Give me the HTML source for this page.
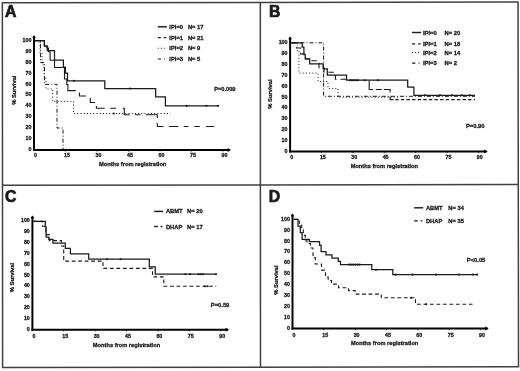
<!DOCTYPE html><html><head><meta charset="utf-8"><style>html,body{margin:0;padding:0;background:#fff;width:520px;height:371px;overflow:hidden}svg{display:block;will-change:transform}</style></head><body><svg width="520" height="371" viewBox="0 0 520 371" font-family='"Liberation Sans", sans-serif' fill="#1a1a1a">
<style>text{stroke:#1a1a1a;stroke-width:0.28px;}</style>
<rect width="520" height="371" fill="#fff"/>
<path d="M2.35,2.75 L518.05,2.0 L518.5,366.75 L2.6,367.5 Z" fill="none" stroke="#404040" stroke-width="1.5"/>
<path d="M260.3,2.4 L260.5,367.1" fill="none" stroke="#404040" stroke-width="1.5"/>
<path d="M2.5,185.35 L518.3,184.45" fill="none" stroke="#404040" stroke-width="1.5"/>
<text x="5.00" y="16.80" font-size="15.8" text-anchor="start" font-weight="bold" style="stroke-width:0.7px">A</text>
<text x="269.00" y="16.90" font-size="15.8" text-anchor="start" font-weight="bold" style="stroke-width:0.7px">B</text>
<text x="5.00" y="202.00" font-size="15.8" text-anchor="start" font-weight="bold" style="stroke-width:0.7px">C</text>
<text x="268.80" y="202.20" font-size="15.8" text-anchor="start" font-weight="bold" style="stroke-width:0.7px">D</text>
<line x1="34" y1="36" x2="34" y2="151" stroke="#000" stroke-width="2"/>
<path d="M32.1,37.7 L34,34.9 L35.9,37.7Z" fill="#000"/>
<line x1="33" y1="150" x2="230" y2="150" stroke="#000" stroke-width="2"/>
<path d="M227.6,148.0 L231.2,150 L227.6,152.0Z" fill="#000"/>
<text x="31.40" y="151.10" font-size="5.3" text-anchor="end" font-weight="bold" >0</text>
<text x="31.40" y="140.17" font-size="5.3" text-anchor="end" font-weight="bold" >10</text>
<text x="31.40" y="129.24" font-size="5.3" text-anchor="end" font-weight="bold" >20</text>
<text x="31.40" y="118.31" font-size="5.3" text-anchor="end" font-weight="bold" >30</text>
<text x="31.40" y="107.38" font-size="5.3" text-anchor="end" font-weight="bold" >40</text>
<text x="31.40" y="96.45" font-size="5.3" text-anchor="end" font-weight="bold" >50</text>
<text x="31.40" y="85.52" font-size="5.3" text-anchor="end" font-weight="bold" >60</text>
<text x="31.40" y="74.59" font-size="5.3" text-anchor="end" font-weight="bold" >70</text>
<text x="31.40" y="63.66" font-size="5.3" text-anchor="end" font-weight="bold" >80</text>
<text x="31.40" y="52.73" font-size="5.3" text-anchor="end" font-weight="bold" >90</text>
<text x="31.40" y="41.80" font-size="5.3" text-anchor="end" font-weight="bold" >100</text>
<text x="35.60" y="156.90" font-size="5.3" text-anchor="middle" font-weight="bold" >0</text>
<line x1="65.50" y1="150" x2="65.50" y2="151.6" stroke="#000" stroke-width="0.8"/>
<text x="66.90" y="156.90" font-size="5.3" text-anchor="middle" font-weight="bold" >15</text>
<line x1="97.00" y1="150" x2="97.00" y2="151.6" stroke="#000" stroke-width="0.8"/>
<text x="98.40" y="156.90" font-size="5.3" text-anchor="middle" font-weight="bold" >30</text>
<line x1="128.50" y1="150" x2="128.50" y2="151.6" stroke="#000" stroke-width="0.8"/>
<text x="129.90" y="156.90" font-size="5.3" text-anchor="middle" font-weight="bold" >45</text>
<line x1="160.00" y1="150" x2="160.00" y2="151.6" stroke="#000" stroke-width="0.8"/>
<text x="161.40" y="156.90" font-size="5.3" text-anchor="middle" font-weight="bold" >60</text>
<line x1="191.50" y1="150" x2="191.50" y2="151.6" stroke="#000" stroke-width="0.8"/>
<text x="192.90" y="156.90" font-size="5.3" text-anchor="middle" font-weight="bold" >75</text>
<line x1="223.00" y1="150" x2="223.00" y2="151.6" stroke="#000" stroke-width="0.8"/>
<text x="224.40" y="156.90" font-size="5.3" text-anchor="middle" font-weight="bold" >90</text>
<text x="0" y="0" font-size="5.8" font-weight="bold" text-anchor="middle" transform="translate(15.7,90.2) rotate(-90)">% Survival</text>
<text x="132.70" y="165.80" font-size="5.7" text-anchor="middle" font-weight="bold" >Months from registration</text>
<path d="M35.00,40.70 H44.40 V46.00 H47.30 V50.50 H54.50 V60.20 H63.40 V67.00 H65.40 V73.00 H67.50 V80.80 H104.80 V88.50 H155.70 V96.90 H165.40 V105.80 H218.50" fill="none" stroke="#1a1a1a" stroke-width="1.25" />
<ellipse cx="74.00" cy="80.80" rx="1.15" ry="1.05" fill="#1a1a1a"/>
<ellipse cx="130.10" cy="88.50" rx="1.15" ry="1.05" fill="#1a1a1a"/>
<ellipse cx="113.70" cy="113.50" rx="1.15" ry="1.05" fill="#1a1a1a"/>
<ellipse cx="186.70" cy="105.80" rx="1.15" ry="1.05" fill="#1a1a1a"/>
<ellipse cx="206.40" cy="105.80" rx="1.15" ry="1.05" fill="#1a1a1a"/>
<ellipse cx="218.00" cy="105.80" rx="1.15" ry="1.05" fill="#1a1a1a"/>
<path d="M35.00,40.70 H44.40 V46.00 H46.90 V48.00 H48.50 V51.70 H50.10 V60.20 H54.50 V67.50 H64.50 V79.00 H66.80 V84.50 H67.90 V90.6 H75.8" fill="none" stroke="#1a1a1a" stroke-width="1.1" />
<path d="M79.4,92.4 V96 H86 M90.3,97.9 V102.5 H95 M96.4,106 V108.3 H104.8 M110.2,108.3 H116.2 M122.9,108.3 H124.3 V114.8 H129.7 M135,114.8 H140.4 M145.8,114.8 H157.3 V118 M157.3,123 V126.5 H163.5 M168.8,126.5 H178.3 M183.6,126.5 H188.4 M194.4,126.5 H199.8 M205.9,126.5 H213.9" fill="none" stroke="#1a1a1a" stroke-width="1.1"/>
<path d="M35.00,40.70 H40.00 V52.80 H42.00 V65.00 H44.00 V77.00 H46.00 V89.00 H52.70 V101.40 H73.50 V113.50 H170.50" fill="none" stroke="#1a1a1a" stroke-width="1.0" stroke-dasharray="1,2.2"/>
<path d="M35.00,40.70 H40.50 V62.50 H44.50 V84.40 H57.00 V128.00 H63.00 V149.00 H63.00" fill="none" stroke="#1a1a1a" stroke-width="1.0" stroke-dasharray="4,2,1,2"/>
<line x1="157.8" y1="26.8" x2="166.8" y2="26.8" stroke="#1a1a1a" stroke-width="1.45"/>
<text x="169.30" y="28.80" font-size="5.8" text-anchor="start" font-weight="bold" >IPI=0</text>
<text x="187.90" y="28.80" font-size="5.8" text-anchor="start" font-weight="bold" >N= 17</text>
<path d="M157.8,37.7 h3 M163.8,37.7 h2.5" stroke="#1a1a1a" stroke-width="1.3"/>
<text x="169.30" y="39.70" font-size="5.8" text-anchor="start" font-weight="bold" >IPI=1</text>
<text x="187.90" y="39.70" font-size="5.8" text-anchor="start" font-weight="bold" >N= 21</text>
<path d="M157.8,48.3 h1 M160.8,48.3 h1 M163.8,48.3 h1" stroke="#1a1a1a" stroke-width="1.1"/>
<text x="169.30" y="50.30" font-size="5.8" text-anchor="start" font-weight="bold" >IPI=2</text>
<text x="187.90" y="50.30" font-size="5.8" text-anchor="start" font-weight="bold" >N= 9</text>
<path d="M157.8,59.0 h3.3 M164.20000000000002,59.0 h1" stroke="#1a1a1a" stroke-width="1.2"/>
<text x="169.30" y="61.00" font-size="5.8" text-anchor="start" font-weight="bold" >IPI=3</text>
<text x="187.90" y="61.00" font-size="5.8" text-anchor="start" font-weight="bold" >N= 5</text>
<text x="214.20" y="91.20" font-size="5.7" text-anchor="start" font-weight="bold" >P=0.009</text>
<line x1="290.1" y1="37.5" x2="290.1" y2="152.5" stroke="#000" stroke-width="2"/>
<path d="M288.20000000000005,39.2 L290.1,36.4 L292.0,39.2Z" fill="#000"/>
<line x1="289.1" y1="151.5" x2="486.5" y2="151.5" stroke="#000" stroke-width="2"/>
<path d="M484.1,149.5 L487.7,151.5 L484.1,153.5Z" fill="#000"/>
<text x="287.50" y="153.00" font-size="5.3" text-anchor="end" font-weight="bold" >0</text>
<text x="287.50" y="142.10" font-size="5.3" text-anchor="end" font-weight="bold" >10</text>
<text x="287.50" y="131.20" font-size="5.3" text-anchor="end" font-weight="bold" >20</text>
<text x="287.50" y="120.30" font-size="5.3" text-anchor="end" font-weight="bold" >30</text>
<text x="287.50" y="109.40" font-size="5.3" text-anchor="end" font-weight="bold" >40</text>
<text x="287.50" y="98.50" font-size="5.3" text-anchor="end" font-weight="bold" >50</text>
<text x="287.50" y="87.60" font-size="5.3" text-anchor="end" font-weight="bold" >60</text>
<text x="287.50" y="76.70" font-size="5.3" text-anchor="end" font-weight="bold" >70</text>
<text x="287.50" y="65.80" font-size="5.3" text-anchor="end" font-weight="bold" >80</text>
<text x="287.50" y="54.90" font-size="5.3" text-anchor="end" font-weight="bold" >90</text>
<text x="287.50" y="44.00" font-size="5.3" text-anchor="end" font-weight="bold" >100</text>
<text x="291.70" y="159.20" font-size="5.3" text-anchor="middle" font-weight="bold" >0</text>
<line x1="321.48" y1="151.5" x2="321.48" y2="153.1" stroke="#000" stroke-width="0.8"/>
<text x="322.88" y="159.20" font-size="5.3" text-anchor="middle" font-weight="bold" >15</text>
<line x1="352.86" y1="151.5" x2="352.86" y2="153.1" stroke="#000" stroke-width="0.8"/>
<text x="354.26" y="159.20" font-size="5.3" text-anchor="middle" font-weight="bold" >30</text>
<line x1="384.24" y1="151.5" x2="384.24" y2="153.1" stroke="#000" stroke-width="0.8"/>
<text x="385.64" y="159.20" font-size="5.3" text-anchor="middle" font-weight="bold" >45</text>
<line x1="415.62" y1="151.5" x2="415.62" y2="153.1" stroke="#000" stroke-width="0.8"/>
<text x="417.02" y="159.20" font-size="5.3" text-anchor="middle" font-weight="bold" >60</text>
<line x1="447.00" y1="151.5" x2="447.00" y2="153.1" stroke="#000" stroke-width="0.8"/>
<text x="448.40" y="159.20" font-size="5.3" text-anchor="middle" font-weight="bold" >75</text>
<line x1="478.38" y1="151.5" x2="478.38" y2="153.1" stroke="#000" stroke-width="0.8"/>
<text x="479.78" y="159.20" font-size="5.3" text-anchor="middle" font-weight="bold" >90</text>
<text x="0" y="0" font-size="5.8" font-weight="bold" text-anchor="middle" transform="translate(272.3,94.1) rotate(-90)">% Survival</text>
<text x="384.30" y="168.20" font-size="5.7" text-anchor="middle" font-weight="bold" >Months from registration</text>
<path d="M291.40,42.80 H302.20 V47.20 H303.90 V54.70 H305.20 V58.90 H309.70 V63.90 H323.10 V68.90 H327.30 V75.10 H346.50 V80.20 H407.70 V87.20 H413.90 V95.30 H475.00" fill="none" stroke="#1a1a1a" stroke-width="1.25" />
<ellipse cx="425.00" cy="95.30" rx="1.15" ry="1.05" fill="#1a1a1a"/>
<ellipse cx="440.00" cy="95.30" rx="1.15" ry="1.05" fill="#1a1a1a"/>
<ellipse cx="452.00" cy="95.30" rx="1.15" ry="1.05" fill="#1a1a1a"/>
<ellipse cx="462.00" cy="95.30" rx="1.15" ry="1.05" fill="#1a1a1a"/>
<ellipse cx="470.00" cy="95.30" rx="1.15" ry="1.05" fill="#1a1a1a"/>
<ellipse cx="350.00" cy="80.20" rx="1.15" ry="1.05" fill="#1a1a1a"/>
<ellipse cx="352.00" cy="80.20" rx="1.15" ry="1.05" fill="#1a1a1a"/>
<ellipse cx="354.00" cy="80.20" rx="1.15" ry="1.05" fill="#1a1a1a"/>
<ellipse cx="356.00" cy="80.20" rx="1.15" ry="1.05" fill="#1a1a1a"/>
<ellipse cx="358.00" cy="80.20" rx="1.15" ry="1.05" fill="#1a1a1a"/>
<ellipse cx="364.70" cy="80.20" rx="1.15" ry="1.05" fill="#1a1a1a"/>
<ellipse cx="377.80" cy="80.20" rx="1.15" ry="1.05" fill="#1a1a1a"/>
<path d="M291.40,42.80 H296.40 V48.00 H300.50 V53.90 H305.60 V59.00 H309.70 V60.80 H319.00 V68.00 H324.00 V72.30 H335.40 V79.20 H346.00" fill="none" stroke="#1a1a1a" stroke-width="1.1" stroke-dasharray="5.5,4"/>
<path d="M369.2,80.4 V89.5 H373 M375.8,89.5 H381.8 M383.8,89.5 H390.1 V92.5 M390.1,96.5 V99.6 H393.5" fill="none" stroke="#1a1a1a" stroke-width="1.1"/>
<path d="M395.3,99.6 H475" fill="none" stroke="#1a1a1a" stroke-width="1.1" stroke-dasharray="3.4,2.2"/>
<path d="M291.40,42.80 H297.20 V50.50 H298.90 V73.10 H318.10 V81.50 H328.00 V88.50 H338.00 V97.20 H400.00" fill="none" stroke="#1a1a1a" stroke-width="1.0" stroke-dasharray="1,2.2"/>
<path d="M291.40,42.80 H323.60 V96.30 H475.00" fill="none" stroke="#1a1a1a" stroke-width="1.0" stroke-dasharray="4,2,1,2"/>
<line x1="412.1" y1="32.5" x2="421.1" y2="32.5" stroke="#1a1a1a" stroke-width="1.45"/>
<text x="423.00" y="34.50" font-size="5.8" text-anchor="start" font-weight="bold" >IPI=0</text>
<text x="444.50" y="34.50" font-size="5.8" text-anchor="start" font-weight="bold" >N= 20</text>
<path d="M412.1,43.8 h3 M418.1,43.8 h2.5" stroke="#1a1a1a" stroke-width="1.3"/>
<text x="423.00" y="45.80" font-size="5.8" text-anchor="start" font-weight="bold" >IPI=1</text>
<text x="444.50" y="45.80" font-size="5.8" text-anchor="start" font-weight="bold" >N= 18</text>
<path d="M412.1,52.5 h1 M415.1,52.5 h1 M418.1,52.5 h1" stroke="#1a1a1a" stroke-width="1.1"/>
<text x="423.00" y="54.50" font-size="5.8" text-anchor="start" font-weight="bold" >IPI=2</text>
<text x="444.50" y="54.50" font-size="5.8" text-anchor="start" font-weight="bold" >N= 14</text>
<path d="M412.1,63.2 h3.3 M418.5,63.2 h1" stroke="#1a1a1a" stroke-width="1.2"/>
<text x="423.00" y="65.20" font-size="5.8" text-anchor="start" font-weight="bold" >IPI=3</text>
<text x="444.50" y="65.20" font-size="5.8" text-anchor="start" font-weight="bold" >N= 2</text>
<text x="466.00" y="128.20" font-size="5.8" text-anchor="start" font-weight="bold" >P=0.90</text>
<line x1="32.4" y1="216.6" x2="32.4" y2="330.8" stroke="#000" stroke-width="2"/>
<path d="M30.5,218.29999999999998 L32.4,215.5 L34.3,218.29999999999998Z" fill="#000"/>
<line x1="31.4" y1="329.8" x2="228" y2="329.8" stroke="#000" stroke-width="2"/>
<path d="M225.6,327.8 L229.2,329.8 L225.6,331.8Z" fill="#000"/>
<text x="29.80" y="330.80" font-size="5.3" text-anchor="end" font-weight="bold" >0</text>
<text x="29.80" y="319.94" font-size="5.3" text-anchor="end" font-weight="bold" >10</text>
<text x="29.80" y="309.08" font-size="5.3" text-anchor="end" font-weight="bold" >20</text>
<text x="29.80" y="298.22" font-size="5.3" text-anchor="end" font-weight="bold" >30</text>
<text x="29.80" y="287.36" font-size="5.3" text-anchor="end" font-weight="bold" >40</text>
<text x="29.80" y="276.50" font-size="5.3" text-anchor="end" font-weight="bold" >50</text>
<text x="29.80" y="265.64" font-size="5.3" text-anchor="end" font-weight="bold" >60</text>
<text x="29.80" y="254.78" font-size="5.3" text-anchor="end" font-weight="bold" >70</text>
<text x="29.80" y="243.92" font-size="5.3" text-anchor="end" font-weight="bold" >80</text>
<text x="29.80" y="233.06" font-size="5.3" text-anchor="end" font-weight="bold" >90</text>
<text x="29.80" y="222.20" font-size="5.3" text-anchor="end" font-weight="bold" >100</text>
<text x="34.00" y="337.90" font-size="5.3" text-anchor="middle" font-weight="bold" >0</text>
<line x1="63.80" y1="329.8" x2="63.80" y2="331.40000000000003" stroke="#000" stroke-width="0.8"/>
<text x="65.20" y="337.90" font-size="5.3" text-anchor="middle" font-weight="bold" >15</text>
<line x1="95.19" y1="329.8" x2="95.19" y2="331.40000000000003" stroke="#000" stroke-width="0.8"/>
<text x="96.59" y="337.90" font-size="5.3" text-anchor="middle" font-weight="bold" >30</text>
<line x1="126.59" y1="329.8" x2="126.59" y2="331.40000000000003" stroke="#000" stroke-width="0.8"/>
<text x="127.99" y="337.90" font-size="5.3" text-anchor="middle" font-weight="bold" >45</text>
<line x1="157.98" y1="329.8" x2="157.98" y2="331.40000000000003" stroke="#000" stroke-width="0.8"/>
<text x="159.38" y="337.90" font-size="5.3" text-anchor="middle" font-weight="bold" >60</text>
<line x1="189.38" y1="329.8" x2="189.38" y2="331.40000000000003" stroke="#000" stroke-width="0.8"/>
<text x="190.78" y="337.90" font-size="5.3" text-anchor="middle" font-weight="bold" >75</text>
<line x1="220.77" y1="329.8" x2="220.77" y2="331.40000000000003" stroke="#000" stroke-width="0.8"/>
<text x="222.17" y="337.90" font-size="5.3" text-anchor="middle" font-weight="bold" >90</text>
<text x="0" y="0" font-size="5.8" font-weight="bold" text-anchor="middle" transform="translate(14.1,277.6) rotate(-90)">% Survival</text>
<text x="126.50" y="346.90" font-size="5.7" text-anchor="middle" font-weight="bold" >Months from registration</text>
<path d="M33.40,221.40 H45.30 V226.90 H46.10 V237.00 H48.90 V239.40 H52.90 V243.00 H65.30 V248.30 H70.40 V253.80 H88.70 V259.20 H149.30 V266.90 H155.20 V274.20 H216.30" fill="none" stroke="#1a1a1a" stroke-width="1.25" />
<ellipse cx="107.10" cy="259.20" rx="1.15" ry="1.05" fill="#1a1a1a"/>
<ellipse cx="120.60" cy="259.20" rx="1.15" ry="1.05" fill="#1a1a1a"/>
<ellipse cx="185.40" cy="274.20" rx="1.15" ry="1.05" fill="#1a1a1a"/>
<ellipse cx="190.00" cy="274.20" rx="1.15" ry="1.05" fill="#1a1a1a"/>
<ellipse cx="198.50" cy="274.20" rx="1.15" ry="1.05" fill="#1a1a1a"/>
<ellipse cx="200.80" cy="274.20" rx="1.15" ry="1.05" fill="#1a1a1a"/>
<ellipse cx="203.10" cy="274.20" rx="1.15" ry="1.05" fill="#1a1a1a"/>
<ellipse cx="216.00" cy="274.20" rx="1.15" ry="1.05" fill="#1a1a1a"/>
<ellipse cx="205.00" cy="286.30" rx="1.15" ry="1.05" fill="#1a1a1a"/>
<ellipse cx="207.50" cy="286.30" rx="1.15" ry="1.05" fill="#1a1a1a"/>
<path d="M33.40,221.40 H42.50 V226.20 H45.80 V234.60 H49.30 V240.60 H61.40 V246.00 H63.70 V261.10 H103.00 V268.40 H152.50 V276.90 H163.80 V286.30 H216.30" fill="none" stroke="#1a1a1a" stroke-width="1.1" stroke-dasharray="3.8,2.7"/>
<line x1="154.2" y1="211.4" x2="163.2" y2="211.4" stroke="#1a1a1a" stroke-width="1.45"/>
<text x="165.90" y="213.40" font-size="5.8" text-anchor="start" font-weight="bold" >ABMT</text>
<text x="187.00" y="213.40" font-size="5.8" text-anchor="start" font-weight="bold" >N= 20</text>
<path d="M154.2,226.5 h3.6 M160.6,226.5 h1.8" stroke="#1a1a1a" stroke-width="1.3"/>
<text x="165.90" y="228.50" font-size="5.8" text-anchor="start" font-weight="bold" >DHAP</text>
<text x="187.00" y="228.50" font-size="5.8" text-anchor="start" font-weight="bold" >N= 17</text>
<text x="210.80" y="306.80" font-size="5.8" text-anchor="start" font-weight="bold" >P=0.59</text>
<line x1="292.5" y1="214.6" x2="292.5" y2="329.6" stroke="#000" stroke-width="2"/>
<path d="M290.6,216.29999999999998 L292.5,213.5 L294.4,216.29999999999998Z" fill="#000"/>
<line x1="291.5" y1="328.6" x2="487.5" y2="328.6" stroke="#000" stroke-width="2"/>
<path d="M485.1,326.6 L488.7,328.6 L485.1,330.6Z" fill="#000"/>
<text x="289.90" y="329.70" font-size="5.3" text-anchor="end" font-weight="bold" >0</text>
<text x="289.90" y="318.81" font-size="5.3" text-anchor="end" font-weight="bold" >10</text>
<text x="289.90" y="307.92" font-size="5.3" text-anchor="end" font-weight="bold" >20</text>
<text x="289.90" y="297.03" font-size="5.3" text-anchor="end" font-weight="bold" >30</text>
<text x="289.90" y="286.14" font-size="5.3" text-anchor="end" font-weight="bold" >40</text>
<text x="289.90" y="275.25" font-size="5.3" text-anchor="end" font-weight="bold" >50</text>
<text x="289.90" y="264.36" font-size="5.3" text-anchor="end" font-weight="bold" >60</text>
<text x="289.90" y="253.47" font-size="5.3" text-anchor="end" font-weight="bold" >70</text>
<text x="289.90" y="242.58" font-size="5.3" text-anchor="end" font-weight="bold" >80</text>
<text x="289.90" y="231.69" font-size="5.3" text-anchor="end" font-weight="bold" >90</text>
<text x="289.90" y="220.80" font-size="5.3" text-anchor="end" font-weight="bold" >100</text>
<text x="294.10" y="336.60" font-size="5.3" text-anchor="middle" font-weight="bold" >0</text>
<line x1="323.85" y1="328.6" x2="323.85" y2="330.20000000000005" stroke="#000" stroke-width="0.8"/>
<text x="325.25" y="336.60" font-size="5.3" text-anchor="middle" font-weight="bold" >15</text>
<line x1="355.20" y1="328.6" x2="355.20" y2="330.20000000000005" stroke="#000" stroke-width="0.8"/>
<text x="356.60" y="336.60" font-size="5.3" text-anchor="middle" font-weight="bold" >30</text>
<line x1="386.55" y1="328.6" x2="386.55" y2="330.20000000000005" stroke="#000" stroke-width="0.8"/>
<text x="387.95" y="336.60" font-size="5.3" text-anchor="middle" font-weight="bold" >45</text>
<line x1="417.90" y1="328.6" x2="417.90" y2="330.20000000000005" stroke="#000" stroke-width="0.8"/>
<text x="419.30" y="336.60" font-size="5.3" text-anchor="middle" font-weight="bold" >60</text>
<line x1="449.25" y1="328.6" x2="449.25" y2="330.20000000000005" stroke="#000" stroke-width="0.8"/>
<text x="450.65" y="336.60" font-size="5.3" text-anchor="middle" font-weight="bold" >75</text>
<line x1="480.60" y1="328.6" x2="480.60" y2="330.20000000000005" stroke="#000" stroke-width="0.8"/>
<text x="482.00" y="336.60" font-size="5.3" text-anchor="middle" font-weight="bold" >90</text>
<text x="0" y="0" font-size="5.8" font-weight="bold" text-anchor="middle" transform="translate(277.9,280.0) rotate(-90)">% Survival</text>
<text x="384.70" y="345.00" font-size="5.7" text-anchor="middle" font-weight="bold" >Months from registration</text>
<path d="M293.80,219.40 H298.00 V226.10 H300.30 V232.60 H302.10 V239.40 H309.30 V241.60 H319.50 V245.20 H321.10 V251.60 H326.00 V254.90 H331.90 V258.10 H338.30 V261.30 H340.50 V264.60 H371.80 V269.70 H392.80 V274.60 H477.00" fill="none" stroke="#1a1a1a" stroke-width="1.25" />
<ellipse cx="349.00" cy="264.60" rx="1.15" ry="1.05" fill="#1a1a1a"/>
<ellipse cx="351.00" cy="264.60" rx="1.15" ry="1.05" fill="#1a1a1a"/>
<ellipse cx="353.20" cy="264.60" rx="1.15" ry="1.05" fill="#1a1a1a"/>
<ellipse cx="355.40" cy="264.60" rx="1.15" ry="1.05" fill="#1a1a1a"/>
<ellipse cx="357.60" cy="264.60" rx="1.15" ry="1.05" fill="#1a1a1a"/>
<ellipse cx="359.60" cy="264.60" rx="1.15" ry="1.05" fill="#1a1a1a"/>
<ellipse cx="376.00" cy="269.70" rx="1.15" ry="1.05" fill="#1a1a1a"/>
<ellipse cx="395.50" cy="274.60" rx="1.15" ry="1.05" fill="#1a1a1a"/>
<ellipse cx="412.50" cy="274.60" rx="1.15" ry="1.05" fill="#1a1a1a"/>
<ellipse cx="436.00" cy="274.60" rx="1.15" ry="1.05" fill="#1a1a1a"/>
<ellipse cx="459.00" cy="274.60" rx="1.15" ry="1.05" fill="#1a1a1a"/>
<ellipse cx="473.00" cy="274.60" rx="1.15" ry="1.05" fill="#1a1a1a"/>
<ellipse cx="477.00" cy="274.60" rx="1.15" ry="1.05" fill="#1a1a1a"/>
<path d="M293.80,219.40 H299.30 V223.30 H301.70 V229.70 H303.30 V235.40 H305.30 V240.70 H307.00 V243.50 H310.50 V248.00 H313.00 V257.60 H315.30 V264.00 H321.50 V270.10 H325.50 V277.10 H328.20 V280.50 H331.50 V284.10 H338.50 V287.70 H348.50 V290.60 H355.20 V294.10 H381.30 V297.80 H415.50 V304.30 H472.50" fill="none" stroke="#1a1a1a" stroke-width="1.1" stroke-dasharray="3.8,2.7"/>
<ellipse cx="411.00" cy="297.80" rx="1.15" ry="1.05" fill="#1a1a1a"/>
<ellipse cx="426.00" cy="304.30" rx="1.15" ry="1.05" fill="#1a1a1a"/>
<line x1="414.2" y1="207.8" x2="423.2" y2="207.8" stroke="#1a1a1a" stroke-width="1.45"/>
<text x="425.90" y="209.80" font-size="5.8" text-anchor="start" font-weight="bold" >ABMT</text>
<text x="448.30" y="209.80" font-size="5.8" text-anchor="start" font-weight="bold" >N= 34</text>
<path d="M414.2,220.9 h3.6 M420.59999999999997,220.9 h1.8" stroke="#1a1a1a" stroke-width="1.3"/>
<text x="425.90" y="222.90" font-size="5.8" text-anchor="start" font-weight="bold" >DHAP</text>
<text x="448.30" y="222.90" font-size="5.8" text-anchor="start" font-weight="bold" >N= 35</text>
<text x="466.80" y="261.90" font-size="5.8" text-anchor="start" font-weight="bold" >P&lt;0.05</text>
</svg></body></html>
